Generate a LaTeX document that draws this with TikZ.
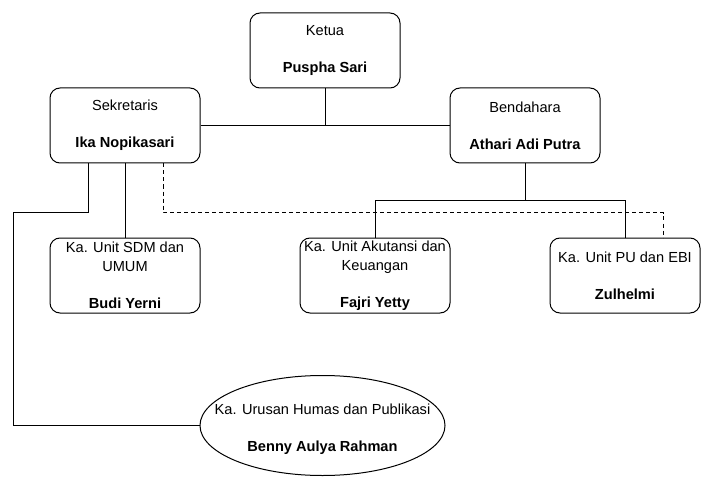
\documentclass[tikz,border=0pt]{standalone}
\usepackage{fontspec}
\setmainfont{Liberation Sans}
\usetikzlibrary{shapes.geometric}
\begin{document}
\begin{tikzpicture}[x=1pt,y=-1pt,
  box/.style={draw,rounded corners=10pt,minimum width=150pt,minimum height=75pt,align=center,inner sep=0pt,line width=1pt},
  oval/.style={draw,ellipse,minimum width=245pt,minimum height=100pt,inner sep=0pt,line width=1pt},
  lbl/.style={align=center,inner sep=0pt},
  link/.style={line width=1pt},
  dlink/.style={line width=1pt,dash pattern=on 4pt off 3pt},
  every node/.style={font=\fontsize{14.6}{18.5}\selectfont}]
\useasboundingbox[fill=white] (0,0) rectangle (714,489);
\node[box] (ketua) at (325,50.5) {Ketua\\ ~\\ \textbf{Puspha Sari}};
\node[box] (sek) at (125,125.5) {Sekretaris\\ ~\\ \textbf{Ika Nopikasari}};
\node[box] (ben) at (525,125.5) {Bendahara\\ ~\\ \textbf{Athari Adi Putra}};
\node[box] (sdm) at (125,275.5) {Ka. Unit SDM dan\\ UMUM\\ ~\\ \textbf{Budi Yerni}};
\node[box] (aku) at (375,275.5) {Ka. Unit Akutansi dan\\ Keuangan\\ ~\\ \textbf{Fajri Yetty}};
\node[box] (pu) at (625,275.5) {Ka. Unit PU dan EBI\\ ~\\ \textbf{Zulhelmi}};
\node[oval] (humas) at (322.5,425.5) {};
\node[lbl] (humaslbl) at (322.5,429) {Ka. Urusan Humas dan Publikasi\\ ~\\ \textbf{Benny Aulya Rahman}};
\coordinate (bus) at (525,200);
\coordinate (lefttop) at (13,212);
\draw[link] (sek.east) -- (ben.west);
\draw[link] (ketua.south) -- (ketua.south |- sek.east);
\draw[link] (ben.south) -- (bus) -| (aku.north);
\draw[link] (bus) -| (pu.north);
\draw[link] (sek.south) -- (sdm.north);
\draw[dlink] ([xshift=38pt]sek.south) -- ++(0,49) -| ([xshift=38pt]pu.north);
\draw[link] ([xshift=-37pt]sek.south) |- (lefttop) |- (humas.west);
\end{tikzpicture}
\end{document}
